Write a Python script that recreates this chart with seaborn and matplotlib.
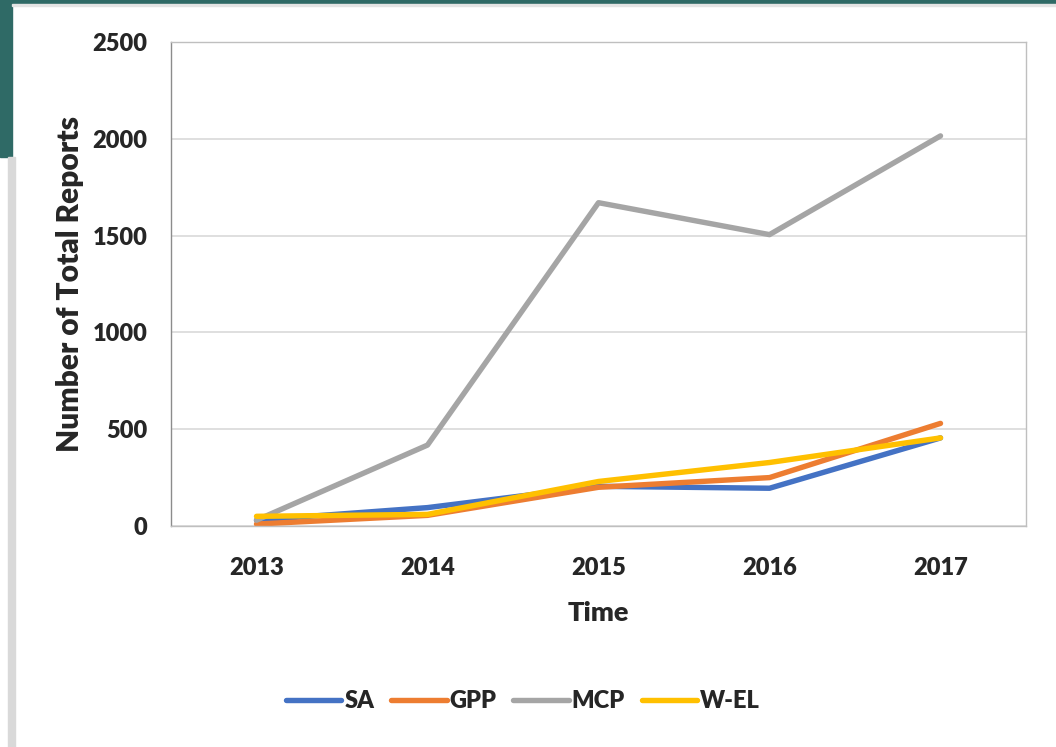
import matplotlib
matplotlib.use("Agg")
import matplotlib.pyplot as plt
from matplotlib.patches import Rectangle
import seaborn as sns
import pandas as pd

years = ["2013", "2014", "2015", "2016", "2017"]
series_names = ["SA", "GPP", "MCP", "W-EL"]
sa = [30, 95, 205, 195, 455]
gpp = [10, 55, 200, 250, 530]
mcp = [30, 418, 1670, 1505, 2015]
wel = [50, 60, 230, 328, 455]
colors = ["#4472C4", "#ED7D31", "#A5A5A5", "#FFC000"]

rows = []
for name, vals in zip(series_names, [sa, gpp, mcp, wel]):
    for y, v in zip(years, vals):
        rows.append({"Year": y, "Reports": v, "Series": name})
df = pd.DataFrame(rows)

sns.set_theme(style="white")
plt.rcParams['font.family'] = ['Lato', 'DejaVu Sans']
WEIGHT = "heavy"

fig = plt.figure(figsize=(10.56, 7.47), dpi=100)
W, H = 1056, 747
# screenshot decoration
fig.patches.append(Rectangle((0, 1 - 4 / H), 1, 4 / H, transform=fig.transFigure, color="#2f6a66", zorder=0))
fig.patches.append(Rectangle((0, 1 - 157 / H), 12 / W, 157 / H, transform=fig.transFigure, color="#2f6a66", zorder=0))
fig.patches.append(Rectangle((8 / W, 0), 7 / W, 1 - 157 / H, transform=fig.transFigure, color="#d9d9d9", zorder=0))
fig.patches.append(Rectangle((12 / W, 1 - 6 / H), 1 - 12 / W, 2 / H, transform=fig.transFigure, color="#e4e4e4", zorder=0))

ax = fig.add_axes([171 / W, 1 - 526 / H, 855 / W, 484 / H])
sns.lineplot(data=df, x="Year", y="Reports", hue="Series", hue_order=series_names,
             palette=colors, linewidth=3.9, ax=ax, sort=False, legend=True)
for ln in ax.lines:
    ln.set_solid_capstyle("round")
    ln.set_solid_joinstyle("round")

ax.set_xlim(-0.5, 4.5)
ax.set_ylim(0, 2500)
ax.set_yticks([0, 500, 1000, 1500, 2000, 2500])
ax.yaxis.grid(True, color="#d9d9d9", linewidth=1.2)
ax.set_axisbelow(True)
for s in ax.spines.values():
    s.set_visible(True)
    s.set_color("#bfbfbf")
    s.set_linewidth(1.0)
ax.spines["left"].set_color("#8c8c8c")
ax.tick_params(axis="both", length=0, labelsize=17)
ax.tick_params(axis="y", pad=17)
ax.tick_params(axis="x", pad=22)
for lab in ax.get_xticklabels() + ax.get_yticklabels():
    lab.set_fontweight(WEIGHT)
ax.set_xlabel("Time", fontsize=19.5, fontweight=WEIGHT, labelpad=16)
ax.set_ylabel("Number of Total Reports", fontsize=21.5, fontweight=WEIGHT, labelpad=6)

handles, labels = ax.get_legend_handles_labels()
if ax.get_legend():
    ax.get_legend().remove()
fig.legend(handles, labels, loc="center", bbox_to_anchor=(523 / W, 1 - 701 / H), ncol=4,
           frameon=False, handlelength=2.35, handletextpad=0.12, columnspacing=0.72,
           prop={"size": 17, "weight": WEIGHT})

fig.savefig("out.png", dpi=100, facecolor="white")
